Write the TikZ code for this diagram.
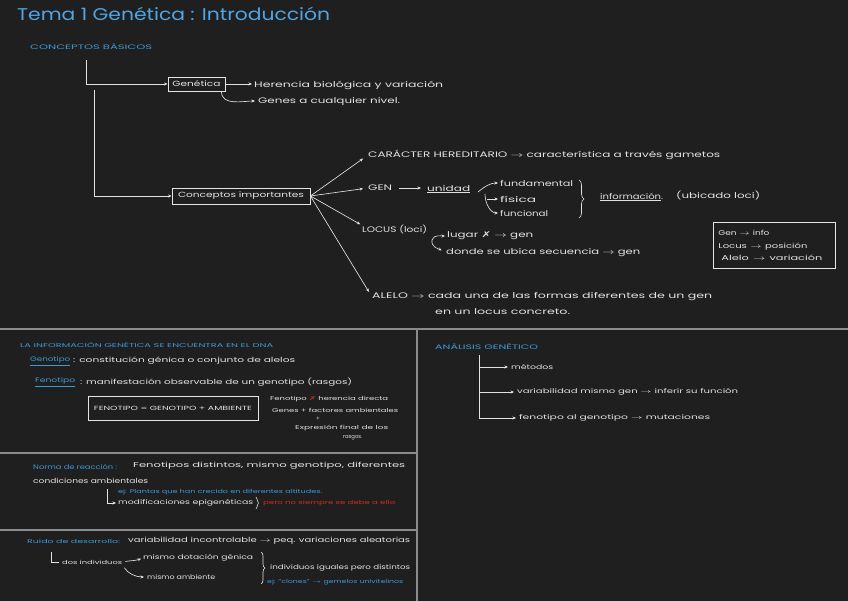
\documentclass[tikz,border=0pt]{standalone}
\usepackage{fontspec}
\usepackage{graphicx}
\setmainfont{Poppins}
\newfontfamily\dvs{DejaVu Sans}
\usetikzlibrary{arrows.meta,decorations.pathreplacing}
\definecolor{bg}{HTML}{1F1F1F}
\definecolor{ink}{HTML}{E2E2E2}
\definecolor{hblue}{HTML}{3A9AD6}
\definecolor{tblue}{HTML}{4EA6E6}
\definecolor{hred}{HTML}{D42A2A}
\definecolor{rulec}{HTML}{8C8C8C}
\newcommand\fitw[2]{\resizebox{#1pt}{\height}{#2}}
\tikzset{
  txt/.style={anchor=west, inner sep=0pt, text=ink, font=\fontsize{8}{9.5}\selectfont},
  mtxt/.style={txt, font=\fontsize{7}{8.5}\selectfont},
  stxt/.style={txt, font=\fontsize{6.5}{8}\selectfont},
  xtxt/.style={txt, font=\fontsize{5.5}{7}\selectfont},
  blue/.style={text=hblue},
  conn/.style={draw=ink, line width=0.65pt, -{Stealth[length=3.5pt,width=3pt]}},
  plain/.style={draw=ink, line width=0.65pt},
  boxn/.style={draw=ink!90, line width=0.9pt, inner sep=0pt, text=ink},
  divider/.style={draw=rulec, line width=1.8pt},
  brc/.style={draw=ink, line width=0.65pt, decorate, decoration={brace, amplitude=#1}},
}
\begin{document}
\begin{tikzpicture}[x=1pt,y=-1pt]
\fill[bg] (0,0) rectangle (848,601);
\useasboundingbox (0,0) rectangle (848,601);

% dividers
\draw[divider] (0,329) -- (848,329);
\draw[divider] (417,329) -- (417,601);
\draw[divider] (0,453) -- (417,453);
\draw[divider] (0,530) -- (417,530);

% title
\node[txt, text=tblue, font=\fontsize{17}{20}\selectfont] (title) at (17,14) {\fitw{313}{Tema 1 Genética : Introducción}};
\node[stxt, blue] (cb) at (30,47) {\fitw{122}{CONCEPTOS BÁSICOS}};

% boxes of the tree
\node[boxn, minimum width=57pt, minimum height=14pt, font=\fontsize{7.5}{9}\selectfont] (gbox) at (196.5,84) {\fitw{48}{Genética}};
\node[boxn, minimum width=138pt, minimum height=16pt, font=\fontsize{7.5}{9}\selectfont] (cbox) at (241,196) {\fitw{126}{Conceptos importantes}};
\coordinate (t1) at (86,60);
\coordinate (t2) at (94,90);
\draw[conn] (t1) |- (gbox.west);
\draw[conn] (t2) |- (cbox.west);

\node[txt] (her) at (254,85) {\fitw{189}{Herencia biológica y variación}};
\node[txt] (genes) at (258,101) {\fitw{142}{Genes a cualquier nivel.}};
\draw[conn, shorten >=2pt] (gbox.east) -- (gbox.east -| her.west);
\draw[conn, shorten >=3pt] ([xshift=-4pt]gbox.south east) to[out=-90,in=180] (genes.west);

% concepts
\node[txt] (car) at (368,155) {\fitw{352}{CARÁCTER HEREDITARIO $\rightarrow$ característica a través gametos}};
\node[txt] (gen) at (368,188) {\fitw{24}{GEN}};
\node[txt] (unidad) at (427,189) {\fitw{43}{\underline{unidad}}};
\node[txt] (fund) at (500,183) {\fitw{73}{fundamental}};
\node[txt] (fis) at (500,199) {\fitw{36}{física}};
\node[txt] (func) at (500,213) {\fitw{48}{funcional}};
\node[txt] (info) at (600,197) {\fitw{63}{\underline{información}.}};
\node[txt] (ubic) at (676,196) {\fitw{84}{(ubicado loci)}};
\node[txt] (locus) at (362,230) {\fitw{65}{LOCUS (loci)}};
\node[txt] (lugar) at (447,236) {\fitw{86}{lugar {\dvs\bfseries ✗} $\rightarrow$ gen}};
\node[txt] (donde) at (446,253) {\fitw{194}{donde se ubica secuencia $\rightarrow$ gen}};
\node[txt] (alelo) at (372,297) {\fitw{340}{ALELO $\rightarrow$ cada una de las formas diferentes de un gen}};
\node[txt] (alelo2) at (435,312) {\fitw{135}{en un locus concreto.}};

\draw[conn, shorten >=6pt] (cbox.east) -- (car.west);
\draw[conn, shorten >=5pt] (cbox.east) -- (gen.west);
\draw[conn, shorten <=7pt, shorten >=6pt] (gen.east) -- (gen.east -| unidad.west);
\draw[conn, shorten >=2pt] (cbox.east) -- (locus.north west);
\draw[conn, shorten >=6pt] (cbox.east) -- (alelo.west);

\coordinate (uf) at (478,192);
\coordinate (fs) at (487,199);
\coordinate (fc) at (485,194);
\draw[conn, shorten >=2pt] (uf) to[out=40,in=180] (fund.west);
\draw[conn, shorten >=2pt] (fs) -- (fis.west);
\draw[conn, shorten >=2pt] (fc) to[out=-90,in=180] (func.west);
\coordinate (b1a) at (579,180);
\coordinate (b1b) at (579,218);
\draw[brc=5pt] (b1a) -- (b1b);

\coordinate (lc) at (432,240);
\draw[conn, shorten >=2pt] (lc) to[out=70,in=180] (lugar.west);
\draw[conn, shorten >=5pt] (lc) to[out=-100,in=150] (donde.west);

% legend box
\node[boxn, anchor=north west, minimum width=122pt, minimum height=46pt, text width=112pt, align=left, inner xsep=5pt, font=\fontsize{7}{12.5}\selectfont] (legend) at (713,222)
  {\fitw{51}{Gen $\rightarrow$ info}\\\fitw{89}{Locus $\rightarrow$ posición}\\\hspace*{3pt}\fitw{101}{Alelo $\rightarrow$ variación}};

% section 1
\node[xtxt, blue] (dna) at (20,345) {\fitw{253}{LA INFORMACIÓN GENÉTICA SE ENCUENTRA EN EL DNA}};
\node[stxt, blue] (geno) at (30,361) {\fitw{40}{\underline{Genotipo}}};
\node[mtxt] (genod) at (73,361) {\fitw{222}{: constitución génica o conjunto de alelos}};
\node[stxt, blue] (feno) at (35,382) {\fitw{40}{\underline{Fenotipo}}};
\node[mtxt] (fenod) at (80,382) {\fitw{272}{: manifestación observable de un genotipo (rasgos)}};
\node[boxn, minimum width=170pt, minimum height=24pt, font=\fontsize{6}{7}\selectfont] (fbox) at (173,408) {\fitw{158}{FENOTIPO = GENOTIPO + AMBIENTE}};
\node[xtxt] (fx) at (270,399) {\fitw{118}{Fenotipo {\color{hred}\dvs ✗} herencia directa}};
\node[xtxt] (fg) at (272,410) {\fitw{126}{Genes + factores ambientales}};
\node[xtxt, anchor=center] (fplus) at (318,419) {+};
\node[xtxt] (fexp) at (295,428) {\fitw{93}{Expresión final de los}};
\node[xtxt] (fras) at (343,438) {\fitw{19}{rasgos.}};

% section 2
\node[stxt, blue] (norma) at (33,467) {\fitw{84}{Norma de reacción :}};
\node[mtxt] (normad) at (133,466) {\fitw{272}{Fenotipos distintos, mismo genotipo, diferentes}};
\node[mtxt] (cond) at (33,481) {\fitw{115}{condiciones ambientales}};
\node[xtxt, blue] (ej1) at (118,492) {\fitw{204}{ej: Plantas que han crecido en diferentes altitudes.}};
\node[stxt] (epi) at (118,503) {\fitw{135}{modificaciones epigenéticas}};
\node[xtxt, text=hred] (pero) at (263,503) {\fitw{132}{pero no siempre se debe a ello}};
\coordinate (e1) at (107,489);
\draw[conn, shorten >=2pt] (e1) |- (epi.west);
\coordinate (b2a) at (256,497);
\coordinate (b2b) at (256,509);
\draw[brc=2.5pt] (b2a) -- (b2b);

% section 3
\node[xtxt, blue] (ruido) at (27,541) {\fitw{93}{Ruido de desarrollo:}};
\node[mtxt] (ruidod) at (128,541) {\fitw{282}{variabilidad incontrolable $\rightarrow$ peq. variaciones aleatorias}};
\node[xtxt] (dos) at (62,562) {\fitw{60}{dos individuos}};
\node[stxt] (m1) at (143,558) {\fitw{110}{mismo dotación génica}};
\node[stxt] (m2) at (147,577) {\fitw{68}{mismo ambiente}};
\node[stxt] (indiv) at (270,568) {\fitw{140}{individuos iguales pero distintos}};
\node[xtxt, blue] (ej2) at (267,582) {\fitw{136}{ej: "clones" $\rightarrow$ gemelos univitelinos}};
\coordinate (r1) at (51,552);
\draw[plain, shorten >=3pt] (r1) |- (dos.west);
\draw[conn, shorten <=3pt, shorten >=2pt] (dos.east) to[out=10,in=200] (m1.west);
\draw[conn, shorten <=4pt, shorten >=3pt] (dos.south east) to[out=-60,in=180] (m2.west);
\coordinate (b3a) at (261,552);
\coordinate (b3b) at (261,584);
\draw[brc=4pt] (b3a) -- (b3b);

% section 4
\node[stxt, blue] (ana) at (435,347) {\fitw{103}{ANÁLISIS GENÉTICO}};
\node[stxt] (met) at (511,367) {\fitw{42}{métodos}};
\node[stxt] (var) at (517,392) {\fitw{221}{variabilidad mismo gen $\rightarrow$ inferir su función}};
\node[stxt] (fen) at (519,418) {\fitw{191}{fenotipo al genotipo $\rightarrow$ mutaciones}};
\coordinate (a0) at (479,355);
\draw[conn, shorten >=3pt] (a0) |- (met.west);
\draw[conn, shorten >=3pt] (a0) |- (var.west);
\draw[conn, shorten >=3pt] (a0) |- (fen.west);
\end{tikzpicture}
\end{document}
